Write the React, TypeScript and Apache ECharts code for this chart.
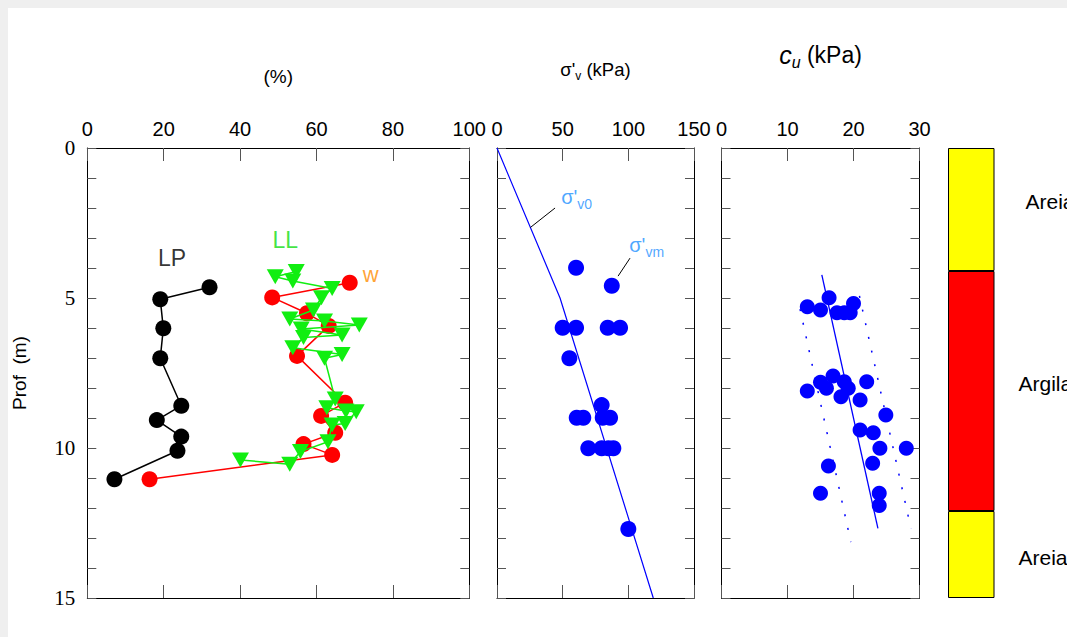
import React, { useEffect, useRef } from "react";
import * as echarts from "echarts";

// ---------- Panel 1: Atterberg limits / water content (%) ----------
const lpDepth = [4.64, 5.04, 6.01, 7.01, 8.59, 9.07, 9.62, 10.09, 11.04];
const lpValue = [32.0, 19.1, 19.9, 19.1, 24.6, 18.2, 24.6, 23.6, 7.1];
const wDepth = [4.49, 4.98, 5.51, 5.93, 6.93, 8.49, 8.93, 9.49, 9.87, 10.23, 11.04];
const wValue = [68.7, 48.4, 57.5, 63.2, 54.9, 67.5, 61.2, 64.9, 56.6, 64.1, 16.3];
const llDepth = [4.12, 4.29, 4.43, 4.68, 4.99, 5.4, 5.7, 5.77, 5.9, 6.03, 6.23, 6.32, 6.66, 6.88, 7.01, 8.37, 8.66, 8.77, 8.79, 9.18, 9.23, 9.79, 10.12, 10.54, 10.4];
const llValue = [54.7, 49.2, 53.8, 64.1, 61.3, 59.2, 53.0, 62.1, 71.2, 56.0, 66.7, 56.6, 53.8, 66.7, 62.1, 64.9, 62.7, 67.7, 70.4, 67.5, 64.1, 63.0, 55.8, 53.0, 40.1];

// ---------- Panel 2: vertical effective stress (kPa) ----------
const sv0Depth = [0, 5, 15];
const sv0Value = [0, 48, 119];
const svmDepth = [3.99, 4.59, 5.99, 5.99, 5.99, 5.99, 7.01, 8.57, 8.99, 8.99, 8.99, 8.99, 10.01, 10.01, 10.01, 10.01, 12.7];
const svmValue = [60.2, 87.4, 50.0, 60.2, 84.3, 93.7, 55.1, 79.7, 60.7, 65.7, 80.5, 86.1, 69.5, 79.7, 84.8, 88.6, 100.0];

// ---------- Panel 3: undrained shear strength cu (kPa) ----------
const cuDepth = [5.29, 5.4, 4.99, 5.49, 5.49, 5.49, 5.18, 7.81, 7.6, 7.79, 8.01, 8.1, 8.29, 8.01, 7.79, 8.4, 8.9, 9.4, 9.49, 10.01, 10.01, 10.51, 10.6, 11.51, 11.51, 11.92];
const cuValue = [13.0, 15.0, 16.3, 17.5, 18.6, 19.5, 20.0, 15.0, 16.9, 18.6, 15.9, 13.0, 18.1, 19.2, 22.0, 21.0, 24.9, 21.0, 23.0, 24.0, 28.0, 22.9, 16.2, 15.0, 23.9, 23.9];
const cuTrendDepth = [4.23, 12.68];
const cuTrendValue = [15.2, 23.7];
const cuLowerDepth = [5.37, 13.14];
const cuLowerValue = [11.9, 19.6];
const cuUpperDepth = [4.93, 12.68];
const cuUpperValue = [20.9, 28.7];

// ---------- Panel 4: soil profile ----------
const layerNames = ["Areia", "Argila", "Areia"];
const layerTop = [0, 4.1, 12.1];
const layerBottom = [4.1, 12.1, 15];
const layerColors = ["#ffff00", "#ff0000", "#ffff00"];

// ---------- Axis ticks ----------
const depthMin = 0;
const depthMax = 15;
const depthMajorLabels = [0, 5, 10, 15];
const pctTicks = { min: 0, max: 100, interval: 20 };
const kpaTicks = { min: 0, max: 150, interval: 50 };
const cuTicks = { min: 0, max: 30, interval: 10 };

const zip = (xs: number[], ys: number[]) => xs.map((x, i) => [x, ys[i]]);

const SANS = "'Liberation Sans', Arial, Helvetica, sans-serif";
const SERIF = "'Liberation Serif', 'Times New Roman', serif";
const BLUE = "#0000ff";
const LBLUE = "#1e90ff";

const grids = [
  { left: 79.3, top: 140, width: 382, height: 450 },
  { left: 489, top: 140, width: 197, height: 450 },
  { left: 713.5, top: 140, width: 198, height: 450 },
  { left: 940, top: 140, width: 46.5, height: 450 },
];

function xAxesFor(gi: number, t: { min: number; max: number; interval: number }, name: any, nameGap: number, nameStyle: any) {
  const base = {
    gridIndex: gi,
    type: "value",
    min: t.min,
    max: t.max,
    interval: t.interval,
    axisLine: { show: true, onZero: false, lineStyle: { color: "#000", width: 1 } },
    axisTick: { show: true, inside: true, length: 13, lineStyle: { color: "#555", width: 1 } },
    splitLine: { show: false },
  };
  return [
    {
      ...base,
      position: "top",
      name,
      nameLocation: "middle",
      nameGap,
      nameTextStyle: nameStyle,
      axisLabel: { show: true, margin: 9, fontFamily: SANS, fontSize: 20, color: "#000" },
    },
    { ...base, position: "bottom", axisLabel: { show: false } },
  ];
}

function yAxesFor(gi: number, withLabels: boolean) {
  const base = {
    gridIndex: gi,
    type: "value",
    inverse: true,
    min: depthMin,
    max: depthMax,
    interval: 1,
    axisLine: { show: true, onZero: false, lineStyle: { color: "#000", width: 1 } },
    axisTick: { show: true, inside: true, length: 9, lineStyle: { color: "#555", width: 1 } },
    splitLine: { show: false },
  };
  return [
    {
      ...base,
      position: "left",
      name: withLabels ? "Prof  (m)" : undefined,
      nameLocation: "middle",
      nameRotate: 90,
      nameGap: 58,
      nameTextStyle: { fontFamily: SANS, fontSize: 19, color: "#000" },
      axisLabel: withLabels
        ? {
            show: true,
            margin: 12,
            fontFamily: SERIF,
            fontSize: 21,
            color: "#000",
            formatter: (v: number) => (depthMajorLabels.includes(v) ? String(v) : ""),
          }
        : { show: false },
    },
    { ...base, position: "right", axisLabel: { show: false } },
  ];
}

export default function App() {
  const ref = useRef<HTMLDivElement>(null);

  useEffect(() => {
    document.documentElement.style.overflow = "hidden";
    document.body.style.margin = "0";
    document.body.style.background = "#efefef";
    if (!ref.current) return;
    const chart = echarts.init(ref.current, null, { renderer: "svg" });

    const xAxis = [
      ...xAxesFor(0, pctTicks, "(%)", 62, { fontFamily: SANS, fontSize: 19, color: "#000" }),
      ...xAxesFor(1, kpaTicks, "{a|σ'}{sub|v}{a| (kPa)}", 66, {
        fontFamily: SANS,
        color: "#000",
        rich: {
          a: { fontFamily: SANS, fontSize: 18.5, color: "#000" },
          sub: { fontFamily: SANS, fontSize: 12, color: "#000", verticalAlign: "bottom", padding: [13, 0, 0, 0] },
        },
      }),
      ...xAxesFor(2, cuTicks, "{c|c}{u|u}{k| (kPa)}", 78, {
        fontFamily: SANS,
        color: "#000",
        rich: {
          c: { fontFamily: SANS, fontSize: 25, fontStyle: "italic", color: "#000" },
          u: { fontFamily: SANS, fontSize: 16, fontStyle: "italic", color: "#000", verticalAlign: "bottom", padding: [14, 0, 0, 0] },
          k: { fontFamily: SANS, fontSize: 23, color: "#000" },
        },
      }),
      { gridIndex: 3, type: "category", data: ["perfil"], show: false },
    ];

    const yAxis = [
      ...yAxesFor(0, true),
      ...yAxesFor(1, false),
      ...yAxesFor(2, false),
      { gridIndex: 3, type: "value", inverse: true, min: depthMin, max: depthMax, show: false },
    ];

    const textLabel = (xi: number, yi: number, x: number, y: number, text: string, style: any, pos: any = "inside") => ({
      type: "scatter",
      xAxisIndex: xi,
      yAxisIndex: yi,
      symbolSize: 1,
      itemStyle: { color: "transparent" },
      silent: true,
      z: 10,
      data: [[x, y]],
      label: { show: true, position: pos, distance: 0, formatter: text, ...style },
    });

    const sigLabelRich = {
      s: { fontFamily: SANS, fontSize: 20, color: LBLUE },
      sub: { fontFamily: SANS, fontSize: 14, color: LBLUE, verticalAlign: "bottom", padding: [14, 0, 0, 0] },
    };

    const series: any[] = [
      // Panel 1
      {
        type: "line",
        xAxisIndex: 0,
        yAxisIndex: 0,
        data: zip(lpValue, lpDepth),
        symbol: "circle",
        symbolSize: 16,
        itemStyle: { color: "#000" },
        lineStyle: { color: "#000", width: 1.5 },
        z: 3,
      },
      {
        type: "line",
        xAxisIndex: 0,
        yAxisIndex: 0,
        data: zip(wValue, wDepth),
        symbol: "circle",
        symbolSize: 16,
        itemStyle: { color: "#ff0000" },
        lineStyle: { color: "#ff0000", width: 1.5 },
        z: 3,
      },
      {
        type: "line",
        xAxisIndex: 0,
        yAxisIndex: 0,
        data: zip(llValue, llDepth),
        symbol: "triangle",
        symbolRotate: 180,
        symbolSize: [17, 15],
        itemStyle: { color: "#11ee11" },
        lineStyle: { color: "#11ee11", width: 1.5 },
        z: 4,
      },
      textLabel(0, 0, 22.2, 3.67, "LP", { fontFamily: SANS, fontSize: 23, color: "#000" }),
      textLabel(0, 0, 51.8, 3.07, "LL", { fontFamily: SANS, fontSize: 23, color: "#11dd11" }),
      textLabel(0, 0, 74.2, 4.2, "w", { fontFamily: SANS, fontSize: 22, color: "#ff8c00" }),

      // Panel 2
      {
        type: "line",
        xAxisIndex: 2,
        yAxisIndex: 2,
        data: zip(sv0Value, sv0Depth),
        symbol: "none",
        lineStyle: { color: BLUE, width: 1.2 },
        z: 2,
      },
      {
        type: "scatter",
        xAxisIndex: 2,
        yAxisIndex: 2,
        data: zip(svmValue, svmDepth),
        symbol: "circle",
        symbolSize: 16,
        itemStyle: { color: BLUE, opacity: 1 },
        z: 3,
      },
      {
        type: "line",
        xAxisIndex: 2,
        yAxisIndex: 2,
        data: [[44.2, 2.0], [25.4, 2.65]],
        symbol: "none",
        lineStyle: { color: "#000", width: 1 },
        z: 2,
      },
      {
        type: "line",
        xAxisIndex: 2,
        yAxisIndex: 2,
        data: [[101.3, 3.67], [92.2, 4.27]],
        symbol: "none",
        lineStyle: { color: "#000", width: 1 },
        z: 2,
      },
      textLabel(2, 2, 48.5, 1.63, "{s|σ'}{sub|v0}", { rich: sigLabelRich }, "right"),
      textLabel(2, 2, 100.3, 3.23, "{s|σ'}{sub|vm}", { rich: sigLabelRich }, "right"),

      // Panel 3
      {
        type: "line",
        xAxisIndex: 4,
        yAxisIndex: 4,
        data: zip(cuLowerValue, cuLowerDepth),
        symbol: "none",
        lineStyle: { color: BLUE, width: 1.5, type: [2, 12] },
        z: 2,
      },
      {
        type: "line",
        xAxisIndex: 4,
        yAxisIndex: 4,
        data: zip(cuUpperValue, cuUpperDepth),
        symbol: "none",
        lineStyle: { color: BLUE, width: 1.5, type: [2, 12] },
        z: 2,
      },
      {
        type: "line",
        xAxisIndex: 4,
        yAxisIndex: 4,
        data: zip(cuTrendValue, cuTrendDepth),
        symbol: "none",
        lineStyle: { color: BLUE, width: 1.3 },
        z: 2,
      },
      {
        type: "scatter",
        xAxisIndex: 4,
        yAxisIndex: 4,
        data: zip(cuValue, cuDepth),
        symbol: "circle",
        symbolSize: 15,
        itemStyle: { color: BLUE, opacity: 1 },
        z: 3,
      },
    ];

    // Panel 4: stacked layer column
    const labelOffsets = [
      [0, -8],
      [0, -8],
      [0, 3],
    ];
    const labelDistances = [31, 24, 24];
    layerNames.forEach((name, i) => {
      series.push({
        type: "bar",
        xAxisIndex: 6,
        yAxisIndex: 6,
        stack: "perfil",
        barWidth: "100%",
        data: [layerBottom[i] - layerTop[i]],
        itemStyle: { color: layerColors[i], borderColor: "#000", borderWidth: 1 },
        label: {
          show: true,
          position: "right",
          distance: labelDistances[i],
          offset: labelOffsets[i],
          formatter: name,
          fontFamily: SANS,
          fontSize: 21,
          color: "#000",
        },
        silent: true,
      });
    });

    chart.setOption({
      animation: false,
      backgroundColor: "#ffffff",
      grid: grids,
      xAxis,
      yAxis,
      series,
    });

    return () => chart.dispose();
  }, []);

  return (
    <div
      ref={ref}
      style={{ position: "absolute", left: 8, top: 8, width: 1059, height: 629, background: "#fff", overflow: "hidden" }}
    />
  );
}
